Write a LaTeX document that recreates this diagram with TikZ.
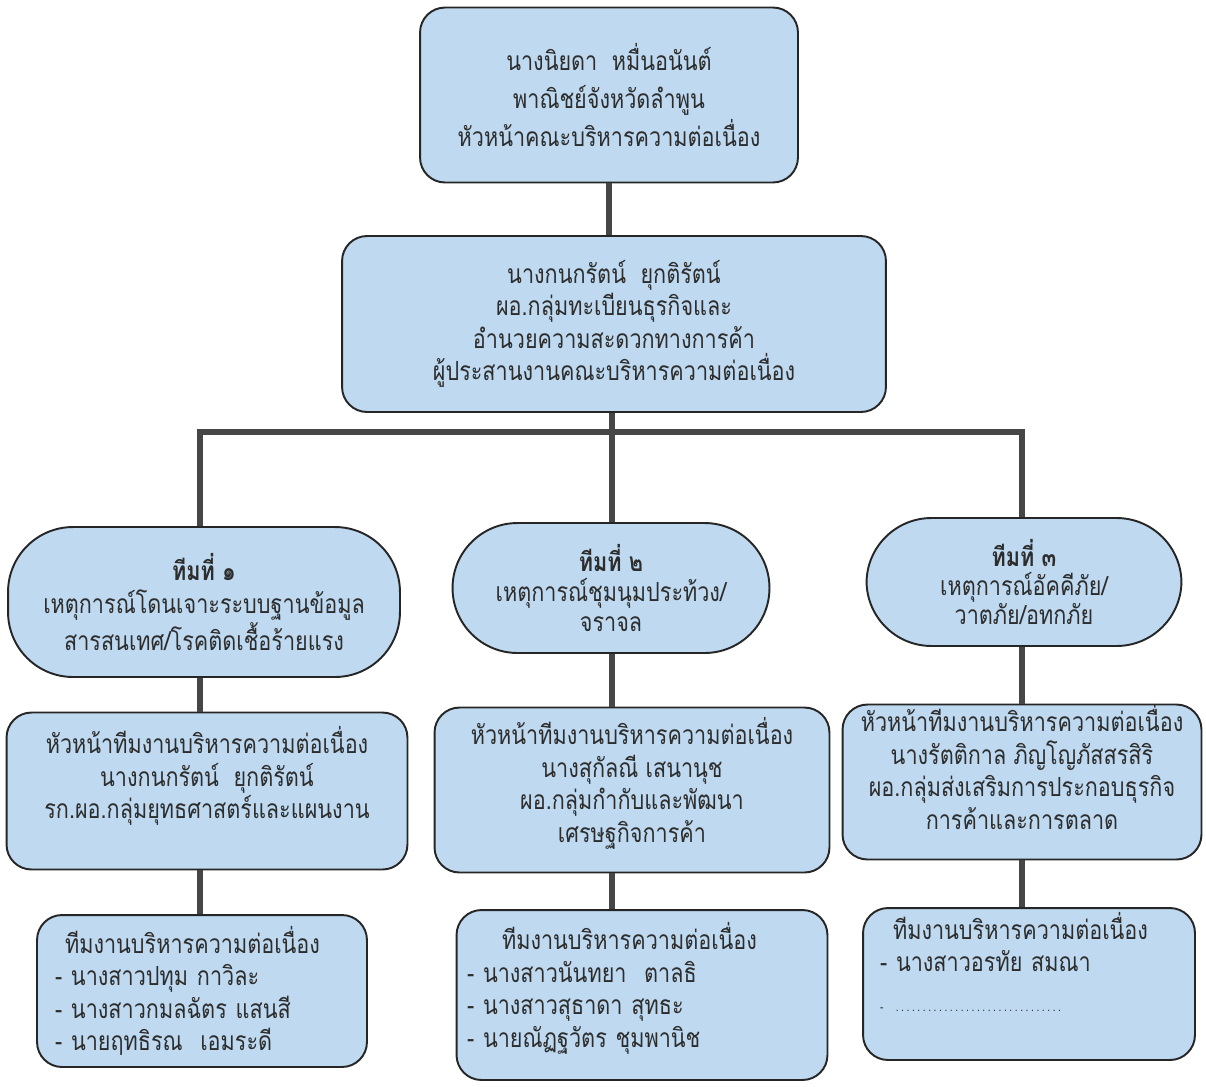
\documentclass[tikz,border=0pt]{standalone}
\usepackage{fontspec}
\setmainfont[Script=Thai,FakeStretch=0.82]{Loma}
\definecolor{boxblue}{RGB}{190,217,240}
\definecolor{linegray}{RGB}{70,70,70}
\definecolor{txtgray}{RGB}{45,45,45}
\begin{document}
\begin{tikzpicture}[x=0.02cm,y=-0.02cm,
	box/.style={draw=black!85, line width=1.1pt, fill=boxblue, rounded corners=0.5cm,
		align=center, text=txtgray, inner sep=0pt, font=\fontsize{15}{18.5}\selectfont},
	pill/.style={box, rounded corners=1.3cm},
	link/.style={draw=linegray, line width=3.4pt}]
\useasboundingbox (0,0) rectangle (1206,1086);

%----------------------------
% Top: head of the committee
%----------------------------
\node[box, minimum width=7.56cm, minimum height=3.5cm, font=\fontsize{15}{21.5}\selectfont] (chief) at (609,95)
	{นางนิยดา~~หมื่นอนันต์\\ พาณิชย์จังหวัดลำพูน\\ หัวหน้าคณะบริหารความต่อเนื่อง};

% Coordinator
\node[box, minimum width=10.88cm, minimum height=3.52cm] (coord) at (614,324)
	{นางกนกรัตน์~~ยุกติรัตน์\\ ผอ.กลุ่มทะเบียนธุรกิจและ\\ อำนวยความสะดวกทางการค้า\\ ผู้ประสานงานคณะบริหารความต่อเนื่อง};

%----------------------------
% Teams
%----------------------------
\node[pill, minimum width=7.84cm, minimum height=3cm] (team1) at (204,602)
	{\textbf{ทีมที่ ๑}\\ เหตุการณ์โดนเจาะระบบฐานข้อมูล\\ สารสนเทศ/โรคติดเชื้อร้ายแรง};
\node[pill, minimum width=6.34cm, minimum height=2.6cm, font=\fontsize{15}{17}\selectfont] (team2) at (611,588)
	{\textbf{ทีมที่ ๒}\\ เหตุการณ์ชุมนุมประท้วง/\\ จราจล};
\node[pill, minimum width=6.3cm, minimum height=2.56cm, font=\fontsize{15}{16.5}\selectfont] (team3) at (1024,582)
	{\textbf{ทีมที่ ๓}\\ เหตุการณ์อัคคีภัย/\\ วาตภัย/อทกภัย};

%----------------------------
% Team heads
%----------------------------
\node[box, minimum width=8.02cm, minimum height=3.14cm] (head1) at (207,791)
	{หัวหน้าทีมงานบริหารความต่อเนื่อง\\ นางกนกรัตน์~~ยุกติรัตน์\\ รก.ผอ.กลุ่มยุทธศาสตร์และแผนงาน\\[0.09cm]};
\node[box, minimum width=7.9cm, minimum height=3.3cm] (head2) at (632,790)
	{หัวหน้าทีมงานบริหารความต่อเนื่อง\\ นางสุกัลณี เสนานุช\\ ผอ.กลุ่มกำกับและพัฒนา\\ เศรษฐกิจการค้า\\[-0.25cm]};
\node[box, minimum width=7.18cm, minimum height=3.1cm] (head3) at (1022,782)
	{หัวหน้าทีมงานบริหารความต่อเนื่อง\\ นางรัตติกาล ภิญโญภัสสรสิริ\\ ผอ.กลุ่มส่งเสริมการประกอบธุรกิจ\\ การค้าและการตลาด\\[-0.05cm]};

%----------------------------
% Team members
%----------------------------
\node[box, minimum width=6.6cm, minimum height=3.04cm, align=left, text width=5.88cm] (staff1) at (202,991)
	{\hspace{0.2cm}ทีมงานบริหารความต่อเนื่อง\\ - นางสาวปทุม กาวิละ\\ - นางสาวกมลฉัตร แสนสี\\ - นายฤทธิรณ~~เอมระดี};
\node[box, minimum width=7.42cm, minimum height=3.4cm, align=left, text width=7.0cm] (staff2) at (642,995)
	{\hspace{0.7cm}ทีมงานบริหารความต่อเนื่อง\\ - นางสาวนันทยา~~ตาลธิ\\ - นางสาวสุธาดา สุทธะ\\ - นายณัฏฐวัตร ชุมพานิช\\[-0.25cm]\mbox{}};
\node[box, minimum width=6.64cm, minimum height=3.04cm, align=left, text width=5.96cm] (staff3) at (1029,984)
	{\hspace{0.26cm}ทีมงานบริหารความต่อเนื่อง\\ - นางสาวอรทัย สมณา\\[0.15cm] {\scriptsize -\hspace{0.2cm}\makebox[3.4cm]{\dotfill}}\\[0.23cm]\mbox{}};

%----------------------------
% Connectors
%----------------------------
\coordinate (bus) at (612,432);
\draw[link] (chief.south) -- (chief.south |- coord.north);
\draw[link] (coord.south -| bus) -- (bus);
\draw[link] (team1.north -| 200,0) |- (bus) -| (team3.north -| 1022,0);
\draw[link] (bus) -- (team2.north -| bus);
\draw[link] (team1.south -| 200,0) -- (head1.north -| 200,0);
\draw[link] (head1.south -| 200,0) -- (staff1.north -| 200,0);
\draw[link] (team2.south -| bus) -- (head2.north -| bus);
\draw[link] (head2.south -| bus) -- (staff2.north -| bus);
\draw[link] (team3.south -| 1022,0) -- (head3.north -| 1022,0);
\draw[link] (head3.south -| 1022,0) -- (staff3.north -| 1022,0);
\end{tikzpicture}
\end{document}
